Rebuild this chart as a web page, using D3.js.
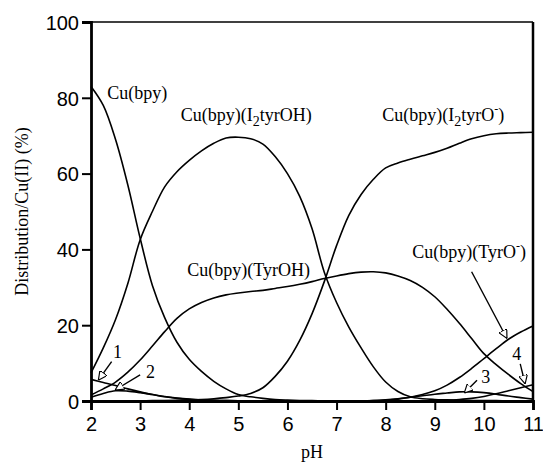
<!DOCTYPE html>
<html>
<head>
<meta charset="utf-8">
<script src="https://cdn.jsdelivr.net/npm/d3@7"></script>
<style>
  body { margin: 0; background: #fff; }
  .tick text { font-family: "Liberation Sans", Arial, sans-serif; font-size: 20px; fill: #000; }
  .lbl { font-family: "Liberation Serif", "Times New Roman", serif; font-size: 18px; fill: #000; }
</style>
</head>
<body>
<div id="chart"></div>
<script>
const width = 543, height = 472;
const margin = {top: 22, right: 10, bottom: 71, left: 91};

// pH grid (0.25 steps)
const pH = [2,2.25,2.5,2.75,3,3.25,3.5,3.75,4,4.25,4.5,4.75,5,5.25,5.5,5.75,6,6.25,6.5,6.75,7,7.25,7.5,7.75,8,8.25,8.5,8.75,9,9.25,9.5,9.75,10,10.25,10.5,10.75,11];

const cuBpy = [83,78,69,57,43,30.5,22,15.5,11,7.8,5.2,3.2,1.7,1.1,0.7,0.4,0.25,0.15,0.1,0.05,0,0,0,0,0,0,0,0,0,0,0,0,0,0,0,0,0];
const i2tyrOH = [7.4,14,21.5,31,42.5,50,56.5,60.5,63.5,66,68,69.4,69.6,69.2,67.8,64.5,60,54,45.5,34,26,19.5,14,9,5,2.5,1.1,0.6,0.4,0.3,0.2,0.15,0.1,0.1,0.05,0.05,0];
const i2tyrO = [0,0,0,0,0.05,0.1,0.15,0.2,0.3,0.4,0.6,0.9,1.3,2,3.5,6.5,10.5,16,23,31.5,41,49,54.5,58.5,61.5,62.8,63.8,64.7,65.6,66.7,68,69.2,70,70.5,70.7,70.8,70.9];
const tyrOH = [1.6,3.2,5,7.6,10.8,14.5,18.3,21.8,24.3,26,27.2,28,28.5,28.9,29.2,29.7,30.2,30.8,31.5,32.3,33,33.6,34,34.1,33.8,33,31.8,30,27.5,24.2,20.5,16.5,12.5,9.6,7,4.6,2.5];
const tyrO = [0,0,0,0,0,0,0,0,0,0,0,0,0,0,0,0,0,0,0,0,0,0,0,0.1,0.25,0.5,1,1.7,2.7,4.2,6.2,8.6,11.2,13.8,16.3,18.2,19.8];
const minor1 = [5.7,4.9,4.1,3.2,2.4,1.7,1.1,0.7,0.45,0.3,0.2,0.1,0.05,0,0,0,0,0,0,0,0,0,0,0,0,0,0,0,0,0,0,0,0,0,0,0,0];
const minor2 = [1,2,2.7,2.6,2.2,1.7,1.2,0.8,0.5,0.3,0.2,0.1,0.05,0,0,0,0,0,0,0,0,0,0,0,0,0,0,0,0,0,0,0,0,0,0,0,0];
const minor3 = [0,0,0,0,0,0,0,0,0,0,0,0,0,0,0,0,0,0,0,0,0,0,0,0.1,0.3,0.6,1,1.4,1.8,2.1,2.4,2.4,2.2,1.8,1.3,0.9,0.5];
const minor4 = [0,0,0,0,0,0,0,0,0,0,0,0,0,0,0,0,0,0,0,0,0,0,0,0,0,0,0,0,0.1,0.2,0.4,0.7,1.2,1.9,2.7,3.5,4.3];

const xTicks = [2,3,4,5,6,7,8,9,10,11];
const yTicks = [0,20,40,60,80,100];

// species labels: [pH, %, text parts]
const speciesLabels = [
  {x: 2.33, y: 79.7, parts: [["Cu(bpy)"]]},
  {x: 3.83, y: 73.9, parts: [["Cu(bpy)(I"], ["2", "sub"], ["tyrOH)"]]},
  {x: 7.93, y: 73.9, parts: [["Cu(bpy)(I"], ["2", "sub"], ["tyrO"], ["-", "sup"], [")"]]},
  {x: 3.96, y: 33, parts: [["Cu(bpy)(TyrOH)"]]},
  {x: 8.54, y: 37.7, parts: [["Cu(bpy)(TyrO"], ["-", "sup"], [")"]]}
];
const numLabels = [
  {x: 2.54, y: 11.3, t: "1"},
  {x: 3.21, y: 6.1, t: "2"},
  {x: 10.04, y: 4.7, t: "3"},
  {x: 10.67, y: 10.8, t: "4"}
];
// arrows: from (pH,%) to (pH,%)
const arrows = [
  [2.42, 10.4, 2.15, 5.5],
  [3.0, 6.9, 2.49, 2.9],
  [9.75, 34.1, 10.47, 16.5],
  [9.86, 5.5, 9.6, 2.1],
  [10.74, 9.8, 10.84, 4.5]
];

const svg = d3.select("#chart").append("svg")
  .attr("width", width).attr("height", height);

const x = d3.scaleLinear().domain([2, 11]).range([margin.left, width - margin.right]);
const y = d3.scaleLinear().domain([0, 100]).range([height - margin.bottom, margin.top]);

svg.append("defs").append("marker")
  .attr("id", "head")
  .attr("viewBox", "0 0 10 10")
  .attr("refX", 10).attr("refY", 5)
  .attr("markerWidth", 9).attr("markerHeight", 9)
  .attr("markerUnits", "userSpaceOnUse")
  .attr("orient", "auto")
  .append("path")
  .attr("d", "M0,0 L10,5 L0,10 Z")
  .attr("fill", "#fff").attr("stroke", "#000").attr("stroke-width", 1.3);

// frame: top thin, right thick
svg.append("line")
  .attr("x1", x(2)).attr("x2", x(11)).attr("y1", y(100)).attr("y2", y(100))
  .attr("stroke", "#000").attr("stroke-width", 1.5);
svg.append("line")
  .attr("x1", x(11)).attr("x2", x(11)).attr("y1", y(100)).attr("y2", y(0))
  .attr("stroke", "#000").attr("stroke-width", 2.5);

const line = d3.line()
  .x((d, i) => x(pH[i]))
  .y(d => y(d))
  .curve(d3.curveCatmullRom.alpha(0.5));

const series = [cuBpy, i2tyrOH, i2tyrO, tyrOH, tyrO, minor1, minor2, minor3, minor4];
svg.append("g")
  .selectAll("path")
  .data(series)
  .join("path")
  .attr("d", line)
  .attr("fill", "none")
  .attr("stroke", "#000")
  .attr("stroke-width", 1.6);

// axes
const xAxis = svg.append("g")
  .attr("transform", `translate(0,${y(0)})`)
  .call(d3.axisBottom(x).tickValues(xTicks).tickSize(9).tickPadding(7).tickFormat(d3.format("d")));
const yAxis = svg.append("g")
  .attr("transform", `translate(${x(2)},0)`)
  .call(d3.axisLeft(y).tickValues(yTicks).tickSize(9).tickPadding(3));
[xAxis, yAxis].forEach(a => {
  a.select(".domain").attr("stroke-width", 2.8).attr("stroke", "#000");
  a.selectAll(".tick line").attr("stroke-width", 2).attr("stroke", "#000");
});
yAxis.selectAll(".tick text").attr("dy", "0.36em");

// arrows
svg.append("g")
  .selectAll("line")
  .data(arrows)
  .join("line")
  .attr("x1", d => x(d[0])).attr("y1", d => y(d[1]))
  .attr("x2", d => x(d[2])).attr("y2", d => y(d[3]))
  .attr("stroke", "#000").attr("stroke-width", 1.4)
  .attr("marker-end", "url(#head)");

// species labels
speciesLabels.forEach(l => {
  const t = svg.append("text").attr("class", "lbl")
    .attr("x", x(l.x)).attr("y", y(l.y));
  l.parts.forEach((p, i) => {
    const ts = t.append("tspan").text(p[0]);
    if (p[1] === "sub") ts.attr("dy", 5).attr("font-size", 14);
    else if (p[1] === "sup") ts.attr("dy", -8).attr("font-size", 12);
    else if (i > 0) {
      // back to the baseline after sub/sup
      const prev = l.parts[i - 1];
      if (prev[1] === "sub") ts.attr("dy", -5);
      if (prev[1] === "sup") ts.attr("dy", 8);
    }
  });
});

svg.append("g")
  .selectAll("text")
  .data(numLabels)
  .join("text")
  .attr("class", "lbl")
  .attr("x", d => x(d.x)).attr("y", d => y(d.y))
  .attr("text-anchor", "middle")
  .attr("font-size", 17)
  .text(d => d.t);

// axis titles
svg.append("text").attr("class", "lbl")
  .attr("x", (x(2) + x(11)) / 2).attr("y", 458)
  .attr("text-anchor", "middle").attr("font-size", 21)
  .text("pH");
svg.append("text").attr("class", "lbl")
  .attr("transform", `translate(28,${(y(0) + y(100)) / 2}) rotate(-90)`)
  .attr("text-anchor", "middle").attr("font-size", 21)
  .text("Distribution/Cu(II) (%)");
</script>
</body>
</html>
